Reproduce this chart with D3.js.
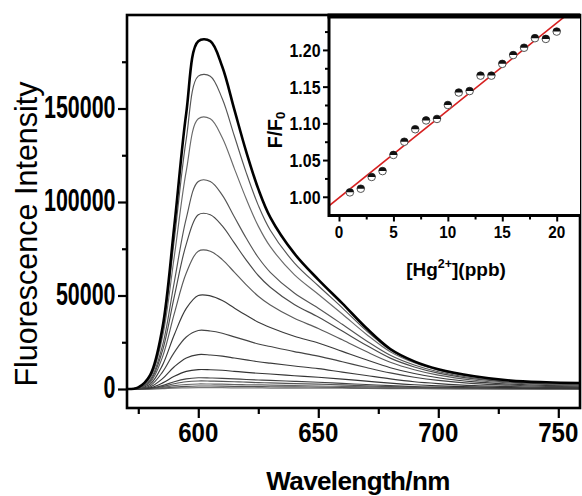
<!DOCTYPE html>
<html>
<head>
<meta charset="utf-8">
<script src="https://cdn.jsdelivr.net/npm/d3@7/dist/d3.min.js"></script>
<style>
  html, body { margin: 0; padding: 0; background: #fff; }
  svg { display: block; }
  text { font-family: "Liberation Sans", Arial, Helvetica, sans-serif; fill: #000; }
</style>
</head>
<body>
<svg id="chart" width="582" height="496"></svg>
<script>
// Emission spectra: wavelength grid (nm) and intensity of each trace
const wavelength = [570, 575, 580, 585, 590, 595, 600, 605, 610, 615, 620, 625, 630, 640, 650, 660, 670, 680, 690, 700, 715, 730, 745, 759];

const curve01 = [0, 900, 7600, 32200, 87100, 147700, 186000, 186000, 172300, 149500, 126800, 107000, 91800, 72500, 58500, 45800, 32600, 21400, 14800, 10600, 6800, 4500, 3600, 3200];
const curve02 = [0, 900, 7000, 30000, 79900, 133800, 167300, 167300, 155200, 135400, 115600, 98200, 84900, 67500, 55200, 43400, 31200, 20800, 14500, 10400, 6700, 4500, 3500, 3100];
const curve03 = [0, 800, 6200, 27300, 70900, 116700, 144500, 144500, 134400, 118000, 101600, 87100, 76100, 61200, 50700, 40100, 29300, 19900, 14000, 10100, 6400, 4300, 3300, 2900];
const curve04 = [0, 700, 5100, 22800, 57200, 91300, 111000, 111000, 103700, 92100, 80600, 70300, 62400, 51300, 43200, 34600, 25800, 18000, 12800, 9200, 5900, 4000, 3000, 2600];
const curve05 = [0, 600, 4400, 20100, 49400, 77500, 93200, 93200, 87200, 78100, 68900, 60700, 54400, 45200, 38500, 31000, 23400, 16500, 11800, 8500, 5400, 3700, 2800, 2300];
const curve06 = [0, 500, 3600, 16800, 40300, 62000, 73700, 73700, 69200, 62500, 55700, 49600, 44900, 37800, 32400, 26300, 20000, 14300, 10300, 7400, 4700, 3200, 2400, 2000];
const curve07 = [0, 400, 2600, 12500, 29000, 43100, 50000, 49800, 47300, 43300, 39400, 35700, 32900, 28200, 24600, 20100, 15600, 11400, 8300, 6000, 3800, 2600, 1900, 1600];
const curve08 = [0, 300, 1800, 8900, 19600, 27800, 31300, 31000, 29800, 27900, 26000, 24100, 22700, 20000, 17600, 14600, 11500, 8600, 6300, 4600, 2900, 2000, 1400, 1200];
const curve09 = [0, 200, 1100, 5400, 11900, 16600, 18400, 18200, 17600, 16600, 15600, 14600, 13800, 12300, 10900, 9000, 7200, 5400, 3900, 2900, 1800, 1300, 900, 700];
const curve10 = [0, 100, 600, 3150, 6800, 9450, 10400, 10300, 10000, 9450, 8900, 8400, 8000, 7100, 6300, 5300, 4200, 3150, 2300, 1700, 1100, 700, 500, 400];
const curve11 = [0, 100, 400, 1800, 3900, 5400, 6000, 5900, 5700, 5400, 5100, 4800, 4600, 4100, 3600, 3000, 2400, 1800, 1300, 1000, 600, 400, 300, 200];
const curve12 = [0, 0, 300, 1300, 2800, 3900, 4300, 4250, 4100, 3900, 3700, 3400, 3300, 2900, 2600, 2200, 1700, 1300, 900, 700, 400, 300, 200, 200];
const curve13 = [0, 0, 200, 800, 1800, 2400, 2700, 2650, 2600, 2400, 2300, 2200, 2100, 1800, 1600, 1400, 1100, 800, 600, 400, 300, 200, 100, 100];
const curve14 = [0, 0, 100, 500, 1000, 1400, 1600, 1580, 1500, 1400, 1400, 1300, 1200, 1100, 1000, 800, 600, 500, 400, 300, 200, 100, 100, 100];
const curve15 = [0, 0, 0, 200, 500, 600, 700, 700, 700, 600, 600, 600, 500, 500, 400, 400, 300, 200, 200, 100, 100, 0, 0, 0];

// Main axis ticks
const xMajorTicks = [600, 650, 700, 750];
const xMinorTicks = [575, 625, 675, 725];
const yMajorTicks = [0, 50000, 100000, 150000];
const yMinorTicks = [25000, 75000, 125000, 175000];

// Calibration inset: Hg2+ concentration (ppb) vs F/F0 and linear fit
const hgConc = [1, 2, 3, 4, 5, 6, 7, 8, 9, 10, 11, 12, 13, 14, 15, 16, 17, 18, 19, 20];
const fRatio = [1.006, 1.011, 1.027, 1.035, 1.057, 1.075, 1.092, 1.104, 1.106, 1.125, 1.142, 1.144, 1.165, 1.165, 1.181, 1.193, 1.203, 1.216, 1.215, 1.225];
const fitIntercept = 0.9987;
const fitSlope = 0.0119;
const insetXMajor = [0, 5, 10, 15, 20];
const insetXMinor = [2.5, 7.5, 12.5, 17.5];
const insetYMajor = [1.00, 1.05, 1.10, 1.15, 1.20];
const insetYMinor = [1.025, 1.075, 1.125, 1.175, 1.225];

const curves = [curve01, curve02, curve03, curve04, curve05, curve06, curve07, curve08,
                curve09, curve10, curve11, curve12, curve13, curve14, curve15];
const curveColors = ["#000", "#555", "#6a6a6a", "#555", "#4a4a4a", "#5a5a5a", "#3a3a3a", "#444",
                     "#3a3a3a", "#333", "#444", "#555", "#666", "#555", "#777"];

const svg = d3.select("#chart");
svg.append("rect").attr("width", 582).attr("height", 496).attr("fill", "#fff");

// ---- main plot ----
const M = { left: 127, right: 580, top: 15, bottom: 408 };
const x = d3.scaleLinear().domain([570.3, 759.04]).range([M.left, M.right]);
const y = d3.scaleLinear().domain([-10160, 200000]).range([M.bottom, M.top]);

svg.append("clipPath").attr("id", "mainClip")
  .append("rect").attr("x", M.left).attr("y", M.top)
  .attr("width", M.right - M.left).attr("height", M.bottom - M.top);

const line = d3.line()
  .x((d, i) => x(wavelength[i]))
  .y(d => y(d))
  .curve(d3.curveCatmullRom.alpha(0.5));

const gCurves = svg.append("g").attr("clip-path", "url(#mainClip)");
// draw faint traces first so the strongest trace sits on top
curves.slice().reverse().forEach((c, k) => {
  const idx = curves.length - 1 - k;
  gCurves.append("path")
    .attr("d", line(c))
    .attr("fill", "none")
    .attr("stroke", curveColors[idx])
    .attr("stroke-width", idx === 0 ? 2.6 : 1.15)
    .attr("stroke-linejoin", "round");
});

// axes (tick marks) — labels drawn separately for condensed lettering
function styleAxis(g, w) {
  g.select(".domain").remove();
  g.selectAll(".tick line").attr("stroke", "#000").attr("stroke-width", w);
  g.selectAll(".tick text").remove();
}
svg.append("g").attr("transform", `translate(0,${M.bottom})`)
  .call(d3.axisBottom(x).tickValues(xMajorTicks).tickSize(10).tickFormat(""))
  .call(g => styleAxis(g, 2.2));
svg.append("g").attr("transform", `translate(0,${M.bottom})`)
  .call(d3.axisBottom(x).tickValues(xMinorTicks).tickSize(6).tickFormat(""))
  .call(g => styleAxis(g, 2.2));
svg.append("g").attr("transform", `translate(${M.left},0)`)
  .call(d3.axisLeft(y).tickValues(yMajorTicks).tickSize(9).tickFormat(""))
  .call(g => styleAxis(g, 2.2));
svg.append("g").attr("transform", `translate(${M.left},0)`)
  .call(d3.axisLeft(y).tickValues(yMinorTicks).tickSize(5).tickFormat(""))
  .call(g => styleAxis(g, 2.2));

svg.append("rect")
  .attr("x", M.left).attr("y", M.top)
  .attr("width", M.right - M.left).attr("height", M.bottom - M.top)
  .attr("fill", "none").attr("stroke", "#000").attr("stroke-width", 2.6);

svg.append("g").selectAll("text").data(yMajorTicks).join("text")
  .attr("transform", d => `translate(115.5,${y(d) + 9}) scale(0.67,1)`)
  .attr("text-anchor", "end")
  .attr("font-size", 32).attr("font-weight", "bold")
  .text(d => d3.format("d")(d));

svg.append("g").selectAll("text").data(xMajorTicks).join("text")
  .attr("transform", d => `translate(${x(d)},441.5) scale(0.86,1)`)
  .attr("text-anchor", "middle")
  .attr("font-size", 28).attr("font-weight", "bold")
  .text(d => d);

svg.append("text")
  .attr("transform", "translate(37,234) rotate(-90)")
  .attr("text-anchor", "middle")
  .attr("font-size", 30.5)
  .text("Fluorescence Intensity");

svg.append("text")
  .attr("x", 358).attr("y", 490)
  .attr("text-anchor", "middle")
  .attr("font-size", 26).attr("font-weight", "bold")
  .attr("letter-spacing", -0.6)
  .text("Wavelength/nm");

// ---- inset: F/F0 vs [Hg2+] ----
const I = { left: 329, right: 580, top: 16, bottom: 215.5 };
const ix = d3.scaleLinear().domain([-0.919, 22.14]).range([I.left, I.right]);
const iy = d3.scaleLinear().domain([0.9745, 1.2462]).range([I.bottom, I.top]);

svg.append("rect")
  .attr("x", I.left).attr("y", I.top)
  .attr("width", I.right - I.left).attr("height", I.bottom - I.top)
  .attr("fill", "#fff");

svg.append("clipPath").attr("id", "insetClip")
  .append("rect").attr("x", I.left).attr("y", I.top)
  .attr("width", I.right - I.left).attr("height", I.bottom - I.top);

const fitX = [ix.domain()[0], 21.5];
svg.append("line")
  .attr("clip-path", "url(#insetClip)")
  .attr("x1", ix(fitX[0])).attr("y1", iy(fitIntercept + fitSlope * fitX[0]))
  .attr("x2", ix(fitX[1])).attr("y2", iy(fitIntercept + fitSlope * fitX[1]))
  .attr("stroke", "#d62020").attr("stroke-width", 1.6);

const r = 3.8;
const topHalf = d3.arc()({ innerRadius: 0, outerRadius: r, startAngle: -Math.PI / 2, endAngle: Math.PI / 2 });
const marks = svg.append("g").selectAll("g").data(hgConc).join("g")
  .attr("transform", (d, i) => `translate(${ix(d)},${iy(fRatio[i])})`);
marks.append("circle").attr("r", r).attr("fill", "#fff").attr("stroke", "#555").attr("stroke-width", 1);
marks.append("path").attr("d", topHalf).attr("fill", "#111");

svg.append("g").attr("transform", `translate(0,${I.bottom})`)
  .call(d3.axisBottom(ix).tickValues(insetXMajor).tickSize(6).tickFormat(""))
  .call(g => styleAxis(g, 2));
svg.append("g").attr("transform", `translate(0,${I.bottom})`)
  .call(d3.axisBottom(ix).tickValues(insetXMinor).tickSize(4).tickFormat(""))
  .call(g => styleAxis(g, 2));
svg.append("g").attr("transform", `translate(${I.left},0)`)
  .call(d3.axisLeft(iy).tickValues(insetYMajor).tickSize(6).tickFormat(""))
  .call(g => styleAxis(g, 2));
svg.append("g").attr("transform", `translate(${I.left},0)`)
  .call(d3.axisLeft(iy).tickValues(insetYMinor).tickSize(4).tickFormat(""))
  .call(g => styleAxis(g, 2));

// inset frame: heavier top edge
svg.append("path")
  .attr("d", `M${I.left},${I.top} V${I.bottom} H${I.right}`)
  .attr("fill", "none").attr("stroke", "#000").attr("stroke-width", 3);
svg.append("line")
  .attr("x1", I.left - 1.5).attr("x2", I.right).attr("y1", I.top).attr("y2", I.top)
  .attr("stroke", "#000").attr("stroke-width", 5);

svg.append("g").selectAll("text").data(insetYMajor).join("text")
  .attr("transform", d => `translate(320.5,${iy(d) + 7}) scale(0.84,1)`)
  .attr("text-anchor", "end")
  .attr("font-size", 19).attr("font-weight", "bold")
  .text(d => d3.format(".2f")(d));

svg.append("g").selectAll("text").data(insetXMajor).join("text")
  .attr("transform", d => `translate(${ix(d)},238) scale(0.9,1)`)
  .attr("text-anchor", "middle")
  .attr("font-size", 17).attr("font-weight", "bold")
  .text(d => d);

const fLabel = svg.append("text")
  .attr("transform", "translate(282,130) rotate(-90)")
  .attr("text-anchor", "middle")
  .attr("font-size", 19.5).attr("font-weight", "bold");
fLabel.append("tspan").text("F/F");
fLabel.append("tspan").attr("font-size", 13).attr("dy", 3).text("0");

const hgLabel = svg.append("text")
  .attr("x", 456).attr("y", 276)
  .attr("text-anchor", "middle")
  .attr("font-size", 19).attr("font-weight", "bold");
hgLabel.append("tspan").text("[Hg");
hgLabel.append("tspan").attr("font-size", 12.5).attr("dy", -8).text("2+");
hgLabel.append("tspan").attr("dy", 8).text("](ppb)");
</script>
</body>
</html>
